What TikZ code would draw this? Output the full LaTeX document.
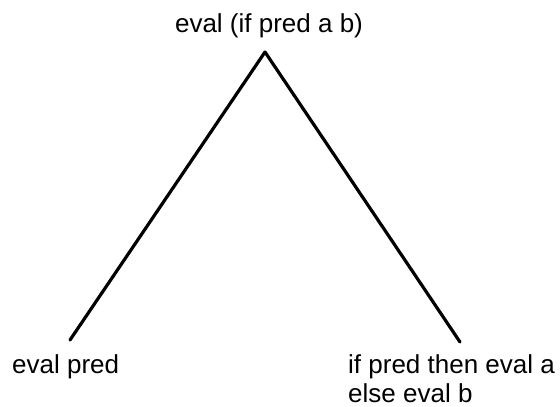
\documentclass[tikz,border=0pt]{standalone}
\usepackage{fontspec}
\setmainfont{Liberation Sans}
\usetikzlibrary{positioning}

\begin{document}
\begin{tikzpicture}[
  x=1pt, y=-1pt,
  font=\fontsize{26}{29}\selectfont,
  label/.style={inner sep=0pt, align=left},
  branch/.style={line width=3.2pt, line cap=round}
]
\useasboundingbox (0,0) rectangle (560,407);

% goal and its two subgoals
\node[label, anchor=base] (goal) at (269,32) {eval (if pred a b)};
\node[label, anchor=base west] (cond) at (12,373) {eval pred};
\node[label, anchor=base west] (rest) at (348,402) {if pred then eval a\\else eval b};

\coordinate (apex) at (265,52);
\coordinate (condend) at (70,340);
\coordinate (restend) at (460,342);

\draw[branch] (apex) -- (condend);
\draw[branch] (apex) -- (restend);

\end{tikzpicture}
\end{document}
